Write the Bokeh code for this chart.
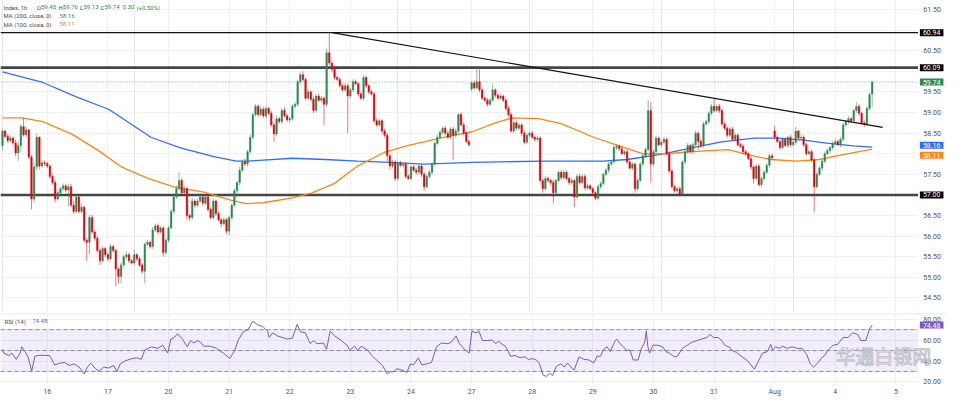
from bokeh.plotting import figure
from bokeh.models import (Range1d, FixedTicker, Span, Label, BoxAnnotation, Grid,
                          ColumnDataSource)
from bokeh.core.properties import value
from bokeh.layouts import column
from bokeh.embed import file_html
from bokeh.resources import INLINE

FONT = "Roboto"

# ---------------- data (hourly closes per trading day) ----------------
d15 = [58.55, 58.42, 58.32, 58.38, 58.26, 58.02, 58.20, 58.66, 58.46, 58.58, 57.92, 56.90, 57.68, 58.40, 57.70, 57.78, 57.76]
d16 = [57.70, 57.45, 57.30, 56.90, 57.05, 57.15, 57.22, 57.12, 57.20, 56.75, 56.60, 56.95, 56.60, 56.70, 55.90, 55.85, 56.45, 56.10, 55.95, 55.65, 55.40, 55.70, 55.55]
d17 = [55.45, 55.75, 55.65, 55.20, 55.02, 55.30, 55.50, 55.55, 55.40, 55.35, 55.55, 55.45, 55.30, 55.15, 55.80, 55.85, 55.75, 56.15, 56.25, 56.10, 56.20, 55.60, 55.90]
d20 = [56.20, 56.60, 56.95, 57.15, 57.35, 57.05, 57.15, 56.50, 56.45, 56.85, 56.75, 56.85, 56.95, 56.80, 56.95, 56.65, 56.45, 56.85, 56.55, 56.40, 56.30, 56.40, 56.12]
d21 = [56.45, 56.75, 57.10, 57.30, 57.60, 57.80, 57.75, 58.05, 58.40, 58.95, 59.15, 58.95, 59.08, 58.92, 59.10, 58.98, 58.70, 58.48, 58.85, 58.78, 59.05, 58.92, 58.82]
d22 = [58.85, 59.15, 59.20, 59.75, 59.92, 59.80, 59.35, 59.50, 59.32, 59.05, 59.40, 59.30, 59.35, 59.20, 60.45, 60.20, 60.05, 59.85, 59.80, 59.65, 59.55, 59.65, 59.40]
d23 = [59.55, 59.75, 59.70, 59.45, 59.35, 59.85, 59.65, 59.50, 59.45, 58.80, 58.70, 58.80, 58.55, 58.45, 57.95, 57.70, 57.80, 57.40, 57.78, 57.72, 57.75, 57.45, 57.40]
d24 = [57.68, 57.60, 57.55, 57.70, 57.50, 57.20, 57.45, 57.55, 57.75, 58.25, 58.40, 58.52, 58.62, 58.50, 58.40, 58.60, 58.45, 58.55, 58.95, 58.70, 58.50, 58.30, 58.22]
d27 = [59.72, 59.60, 59.75, 59.55, 59.35, 59.30, 59.20, 59.30, 59.55, 59.42, 59.35, 59.40, 59.30, 59.10, 58.95, 58.55, 58.75, 58.62, 58.70, 58.50, 58.28, 58.45, 58.50]
d28 = [58.40, 58.35, 58.38, 57.35, 57.15, 57.40, 57.35, 57.30, 57.05, 57.35, 57.55, 57.42, 57.55, 57.40, 57.30, 57.35, 56.95, 57.45, 57.30, 57.45, 57.17, 57.22, 57.15]
d29 = [57.05, 56.92, 57.20, 57.28, 57.50, 57.60, 57.75, 57.80, 58.15, 58.18, 58.12, 58.00, 58.05, 57.80, 57.65, 57.75, 57.15, 57.35, 57.75, 57.95, 58.10, 59.05, 57.75]
d30 = [58.05, 58.38, 58.22, 58.28, 58.35, 58.00, 57.58, 57.20, 57.10, 57.15, 57.02, 57.80, 58.05, 58.20, 58.05, 58.22, 58.50, 58.30, 58.20, 58.72, 58.78, 58.98, 59.15]
d31 = [59.05, 59.15, 59.05, 58.72, 58.62, 58.45, 58.60, 58.35, 58.45, 58.22, 58.18, 58.05, 58.00, 57.88, 57.68, 57.40, 57.70, 57.25, 57.40, 57.55, 57.72, 57.95, 57.90]
d01 = [58.40, 58.30, 58.15, 58.35, 58.20, 58.40, 58.22, 58.28, 58.55, 58.38, 58.40, 58.22, 58.00, 58.05, 57.85, 57.20, 57.50, 57.65, 57.82, 58.00, 58.08, 58.15, 58.25]
d04 = [58.30, 58.22, 58.35, 58.70, 58.78, 58.85, 58.80, 59.05, 59.15, 58.98, 58.75, 58.72, 59.10, 59.44, 59.74]

# upper / lower wick beyond the body, in cents
up15 = [5, 3, 6, 7, 4, 8, 10, 6, 21, 8, 2, 5, 7, 10, 2, 7, 6]
dn15 = [10, 5, 6, 4, 5, 8, 20, 15, 4, 6, 5, 25, 8, 8, 8, 5, 6]
up16 = [4, 3, 5, 6, 4, 5, 6, 4, 8, 7, 10, 6, 5, 8, 5, 5, 6, 7, 5, 4, 5, 6, 4]
dn16 = [5, 6, 5, 8, 4, 5, 4, 6, 40, 5, 6, 5, 5, 4, 6, 45, 30, 5, 6, 5, 10, 5, 6]
up17 = [5, 6, 4, 4, 5, 6, 5, 8, 4, 5, 12, 4, 5, 4, 5, 6, 4, 7, 5, 6, 5, 4, 6]
dn17 = [6, 5, 5, 42, 18, 17, 5, 6, 5, 4, 5, 6, 5, 7, 30, 4, 5, 6, 5, 6, 5, 10, 5]
up20 = [5, 6, 5, 8, 20, 6, 8, 5, 4, 8, 5, 6, 10, 5, 6, 4, 5, 6, 4, 5, 4, 6, 5]
dn20 = [5, 4, 6, 5, 4, 6, 5, 10, 8, 5, 6, 5, 4, 6, 5, 6, 5, 4, 6, 5, 8, 4, 7]
up21 = [5, 4, 6, 5, 8, 6, 8, 5, 6, 4, 6, 5, 8, 6, 5, 4, 6, 5, 8, 5, 6, 8, 5]
dn21 = [10, 6, 5, 8, 6, 5, 4, 6, 5, 6, 5, 6, 4, 5, 6, 4, 5, 20, 6, 5, 6, 4, 5]
up22 = [5, 6, 5, 5, 6, 8, 5, 8, 4, 6, 5, 6, 5, 4, 10, 49, 6, 5, 4, 6, 5, 6, 5]
dn22 = [6, 5, 6, 5, 6, 5, 6, 5, 5, 6, 5, 4, 6, 50, 6, 5, 6, 5, 4, 6, 5, 4, 90]
up23 = [5, 6, 5, 4, 5, 6, 5, 4, 6, 5, 6, 5, 4, 6, 5, 4, 6, 5, 4, 5, 4, 5, 6]
dn23 = [6, 5, 4, 6, 5, 5, 6, 5, 4, 6, 5, 4, 6, 5, 13, 8, 5, 6, 5, 4, 6, 5, 4]
up24 = [4, 5, 6, 4, 5, 6, 4, 5, 4, 5, 6, 5, 4, 6, 5, 4, 5, 6, 4, 5, 6, 4, 5]
dn24 = [5, 4, 6, 5, 6, 10, 5, 4, 6, 5, 4, 5, 6, 5, 4, 5, 59, 6, 5, 4, 6, 5, 4]
up27 = [5, 6, 35, 29, 5, 4, 6, 5, 15, 4, 5, 6, 4, 5, 6, 5, 4, 6, 5, 4, 6, 5, 4]
dn27 = [6, 5, 4, 6, 5, 4, 6, 5, 4, 6, 5, 4, 5, 6, 5, 4, 6, 5, 4, 6, 5, 4, 6]
up28 = [5, 4, 6, 5, 4, 6, 5, 4, 6, 5, 4, 6, 5, 4, 5, 6, 4, 5, 6, 4, 5, 6, 4]
dn28 = [4, 6, 5, 5, 10, 5, 6, 5, 25, 5, 4, 6, 5, 4, 6, 5, 25, 6, 5, 4, 6, 5, 4]
up29 = [5, 4, 6, 5, 4, 6, 5, 4, 6, 5, 4, 6, 5, 4, 6, 5, 4, 6, 5, 4, 6, 25, 20]
dn29 = [6, 5, 4, 6, 5, 4, 6, 5, 4, 6, 5, 4, 6, 5, 4, 6, 10, 5, 4, 6, 5, 4, 45]
up30 = [5, 6, 4, 5, 6, 4, 5, 6, 4, 5, 6, 4, 5, 6, 4, 5, 6, 4, 5, 6, 4, 5, 6]
dn30 = [6, 5, 4, 6, 5, 4, 6, 5, 4, 6, 5, 4, 6, 5, 4, 6, 5, 20, 6, 5, 4, 6, 5]
up31 = [18, 5, 6, 4, 5, 6, 4, 5, 6, 4, 5, 6, 4, 5, 6, 4, 5, 6, 4, 5, 6, 4, 5]
dn31 = [5, 4, 6, 5, 4, 6, 5, 4, 6, 5, 4, 6, 5, 4, 6, 12, 5, 4, 6, 5, 4, 6, 5]
up01 = [13, 5, 4, 6, 5, 4, 6, 5, 10, 4, 6, 5, 4, 6, 5, 4, 6, 5, 4, 6, 5, 4, 6]
dn01 = [5, 4, 6, 5, 4, 6, 5, 4, 6, 5, 4, 6, 5, 4, 6, 62, 5, 4, 6, 5, 4, 6, 5]
up04 = [5, 4, 6, 5, 4, 6, 5, 4, 10, 5, 4, 6, 5, 4, 2]
dn04 = [5, 4, 6, 5, 4, 6, 5, 4, 6, 5, 4, 7, 5, 4, 32]

# bars whose open is not the previous close
gap_bar = [0, 178, 293, 330]
gap_open = [58.20, 59.57, 58.55, 59.45]

# moving averages (bar index, value)
ma200_bar = [0, 15.3, 28, 40.3, 56.3, 67.5, 80.2, 88.8, 92.5, 97.4,
             110, 122.4, 134.7, 147.4, 159.7, 178.4, 204.5, 228, 237, 249.3,
             261.6, 272.8, 285.4, 294, 304, 312.7, 322.8, 330]
ma200_val = [59.99, 59.73, 59.38, 59.08, 58.40, 58.14, 57.93, 57.82, 57.82, 57.84,
             57.89, 57.86, 57.82, 57.79, 57.75, 57.79, 57.82, 57.82, 57.86, 57.98,
             58.14, 58.29, 58.38, 58.38, 58.33, 58.26, 58.19, 58.16]
ma100_bar = [0, 7.5, 15.3, 26.5, 36.6, 45.1, 55.2, 65.3, 76.5, 86.2,
             92.5, 98.9, 110, 117.5, 126, 134.7, 144.8, 153.4, 166, 178.4,
             187, 193.3, 203.4, 212, 224.3, 233.2, 242.9, 251.9, 261.6, 275.4,
             282.8, 291.4, 301.5, 310, 319, 330]
ma100_val = [58.87, 58.87, 58.78, 58.47, 58.07, 57.68, 57.40, 57.19, 57.07, 56.88,
             56.79, 56.81, 56.93, 57.05, 57.28, 57.70, 58.03, 58.19, 58.38, 58.54,
             58.75, 58.87, 58.85, 58.73, 58.40, 58.21, 58.00, 58.00, 58.05, 58.10,
             57.98, 57.86, 57.82, 57.86, 57.98, 58.11]

# RSI(14)
rsi_bar = [0, 0.5, 2.4, 3.6, 5.2, 6.7, 7.3, 8.6, 9.8, 11.1,
           12.3, 14.2, 17.9, 19.8, 21.6, 23.5, 25.4, 27.2, 29.1, 31.0,
           32.2, 33.5, 35.3, 36.6, 38.4, 40.3, 42.2, 43.4, 44.7, 46.5,
           49.0, 50.9, 52.7, 54.0, 56.5, 59.0, 60.8, 62.7, 63.9, 65.2,
           66.4, 68.3, 70.1, 71.4, 72.6, 73.9, 75.1, 76.4, 78.8, 81.3,
           83.8, 86.3, 88.2, 89.4, 91.3, 93.2, 95.0, 96.9, 98.8, 100.6,
           101.2, 102.5, 104.4, 106.2, 108.1, 110.0, 111.8, 113.1, 114.9, 116.8,
           118.0, 119.3, 121.8, 123.0, 124.3, 126.1, 128.6, 131.1, 131.7, 133.6,
           134.8, 136.1, 138.5, 140.4, 142.3, 144.2, 146.0, 147.3, 148.5, 149.7,
           151.6, 153.5, 154.7, 156.0, 157.8, 159.1, 160.9, 162.8, 164.7, 166.5,
           169.0, 170.3, 172.1, 173.4, 175.3, 177.1, 178.1, 179.6, 180.8, 182.1,
           184.0, 185.8, 187.1, 188.3, 189.6, 190.8, 192.0, 192.7, 194.5, 196.4,
           198.2, 199.5, 201.4, 202.6, 203.8, 205.1, 206.3, 207.6, 208.8, 210.1,
           211.9, 213.2, 214.4, 215.7, 216.9, 218.8, 220.6, 222.5, 224.4, 225.6,
           226.9, 228.1, 229.4, 230.6, 232.5, 233.1, 234.3, 235.6, 236.8, 238.1,
           239.3, 241.2, 242.4, 243.7, 244.3, 244.9, 245.5, 246.8, 248.6, 250.5,
           251.7, 253.0, 254.9, 256.1, 258.0, 259.8, 261.7, 263.5, 265.4, 267.3,
           268.5, 269.8, 271.6, 272.9, 274.1, 276.0, 276.6, 278.5, 280.3, 282.8,
           285.3, 286.6, 288.4, 290.3, 291.5, 292.2, 293.4, 294.7, 296.0, 297.8,
           299.6, 301.5, 303.4, 305.2, 306.5, 307.7, 309.6, 310.8, 312.0, 313.3,
           315.2, 317.0, 318.9, 320.8, 322.6, 324.5, 325.7, 327.6, 328.9, 330.0]
rsi_val = [51.2, 47.6, 45.2, 47.6, 41.6, 47.6, 53.6, 49.1, 43.1, 30.3,
           44.6, 45.5, 45.2, 36.3, 37.8, 38.7, 35.7, 37.2, 34.2, 27.6,
           34.2, 37.8, 32.7, 30.3, 34.2, 33.3, 35.7, 29.7, 37.2, 40.1,
           42.2, 43.1, 41.6, 50.6, 53.6, 52.1, 55.1, 47.6, 61.0, 62.5,
           66.1, 61.0, 53.6, 59.6, 57.2, 59.6, 58.1, 54.2, 54.2, 52.1,
           47.6, 42.5, 50.6, 59.6, 67.9, 70.0, 78.1, 74.5, 73.0, 68.5,
           62.5, 67.0, 64.0, 62.5, 61.0, 61.9, 75.1, 67.9, 67.0, 56.6,
           59.6, 56.6, 57.2, 51.2, 68.5, 64.0, 59.6, 54.2, 50.0, 54.2,
           50.0, 54.2, 50.6, 44.6, 40.1, 35.7, 27.6, 29.7, 29.7, 32.7,
           31.2, 29.1, 37.2, 36.3, 43.1, 36.3, 37.2, 38.7, 53.6, 57.2,
           56.6, 58.1, 64.0, 56.6, 51.2, 47.6, 68.5, 67.0, 68.5, 59.6,
           59.6, 60.1, 56.6, 59.0, 56.0, 54.2, 49.1, 44.6, 45.2, 43.1,
           44.0, 41.6, 42.2, 41.0, 37.2, 26.7, 25.2, 28.2, 26.1, 34.8,
           37.2, 34.2, 38.1, 34.2, 31.2, 44.0, 41.6, 41.0, 38.1, 44.6,
           44.6, 51.2, 53.6, 49.1, 59.6, 61.0, 56.6, 53.6, 50.0, 50.6,
           41.0, 41.0, 52.1, 58.1, 68.5, 53.6, 47.6, 55.1, 55.1, 53.6,
           49.1, 47.6, 44.0, 44.6, 52.1, 55.1, 58.1, 59.6, 61.0, 62.5,
           65.5, 62.5, 62.5, 59.6, 55.1, 53.0, 50.6, 48.2, 44.6, 40.1,
           32.1, 38.7, 47.6, 49.1, 56.0, 50.6, 53.6, 52.1, 54.2, 52.1,
           53.6, 52.1, 52.1, 46.1, 37.2, 34.2, 38.7, 43.1, 45.2, 50.6,
           55.1, 56.0, 62.5, 62.5, 67.0, 65.5, 59.6, 59.6, 70.0, 74.48]

trend_bar = [125, 334]
trend_val = [60.94, 58.64]
levels_thin = [60.94]
levels_thick = [60.09, 57.00]
last_close = 59.74
ma200_last = 58.16
ma100_last = 58.11
rsi_last = 74.48
rsi_levels = [70, 50, 30]

day_bars = [17, 40, 63, 86, 109, 132, 155, 178, 201, 224, 247, 270, 293, 316, 339]
day_labels = ["16", "17", "20", "21", "22", "23", "24", "27", "28", "29", "30", "31", "Aug", "4", "5"]
price_ticks = [54.5, 55.0, 55.5, 56.0, 56.5, 57.0, 57.5, 58.0, 58.5, 59.0, 59.5, 60.0, 60.5, 61.0, 61.5]
rsi_ticks = [20, 40, 60, 80]

# ---------------- build candles ----------------
days = [d15, d16, d17, d20, d21, d22, d23, d24, d27, d28, d29, d30, d31, d01, d04]
ups = [up15, up16, up17, up20, up21, up22, up23, up24, up27, up28, up29, up30, up31, up01, up04]
dns = [dn15, dn16, dn17, dn20, dn21, dn22, dn23, dn24, dn27, dn28, dn29, dn30, dn31, dn01, dn04]
closes = [c for d in days for c in d]
up_all = [u for d in ups for u in d]
dn_all = [w for d in dns for w in d]
n = len(closes)
xs = list(range(n))
gaps = dict(zip(gap_bar, gap_open))
opens = [gaps.get(i, closes[i - 1] if i > 0 else closes[0]) for i in xs]
tops = [max(o, c) for o, c in zip(opens, closes)]
bots = [min(o, c) for o, c in zip(opens, closes)]
highs = [t + u / 100 for t, u in zip(tops, up_all)]
lows = [b - w / 100 for b, w in zip(bots, dn_all)]
UP, DN = "#2b8a52", "#e5000e"
cols = [UP if c >= o else DN for o, c in zip(opens, closes)]
src = ColumnDataSource(dict(x=xs, top=tops, bot=bots, hi=highs, lo=lows, col=cols))

# horizontal layout (in bar units): plot area, then a price-scale strip on the right
XR0, XR1 = -0.75, 358.96
X_EDGE = 347.4      # end of the plotting area
TAG_X = 348.1       # left edge of the value tags
LBL_X = 349.4       # left edge of the scale labels
xr = Range1d(XR0, XR1)
W = 948
GRID = "#eef0f4"
SCALE_TXT = "#50535e"
PAD = dict(left=3, right=3, top=1, bottom=1)


def tag(fig, y, s, bg, yoff=0):
    fig.add_layout(Label(x=TAG_X, y=y, x_units="data", y_units="data",
                         y_offset=yoff, text=s, text_color="white", text_font=FONT,
                         text_font_size="7px", text_baseline="middle", text_align="left",
                         background_fill_color=bg, padding=PAD))


def txt(fig, x, y, s, color, size="6px"):
    fig.add_layout(Label(x=x, y=y, x_units="screen", y_units="data", text=s,
                         text_color=color, text_font=FONT, text_font_size=size,
                         text_baseline="middle", text_align="left"))


def scale_labels(fig, ticks, hidden_near, tol):
    shown = [t for t in ticks if all(abs(t - h) > tol for h in hidden_near)]
    fig.text(x=[LBL_X] * len(shown), y=shown, text=[f"{t:.2f}" for t in shown],
             text_font=value(FONT), text_font_size=value("7px"), text_color=SCALE_TXT,
             text_baseline="middle", text_align="left")


# ---------------- main price panel ----------------
p = figure(width=W, height=312, x_range=xr, y_range=Range1d(54.17, 61.72),
           output_backend="svg", toolbar_location=None, y_axis_location=None,
           x_axis_location=None, min_border_left=0, min_border_top=0,
           min_border_bottom=1, min_border_right=0)
p.outline_line_color = None
p.background_fill_color = "white"
p.border_fill_color = "white"
p.add_layout(Grid(dimension=1, ticker=FixedTicker(ticks=price_ticks), grid_line_color=GRID))
p.add_layout(Grid(dimension=0, ticker=FixedTicker(ticks=day_bars), grid_line_color=GRID))
p.add_layout(BoxAnnotation(left=X_EDGE, fill_color="white", fill_alpha=1,
                           line_color=None, level="underlay"))

p.segment(x0=[XR0] * len(levels_thin), y0=levels_thin, x1=[X_EDGE] * len(levels_thin),
          y1=levels_thin, line_color="#111111", line_width=1.4)
p.segment(x0=[XR0] * len(levels_thick), y0=levels_thick, x1=[X_EDGE] * len(levels_thick),
          y1=levels_thick, line_color="#454545", line_width=2.6)
p.segment(x0=[XR0], y0=[last_close], x1=[X_EDGE], y1=[last_close], line_color=UP,
          line_alpha=0.7, line_dash="1 2", line_width=1)

p.line(ma200_bar, ma200_val, line_color="#2f6ff5", line_width=1.3)
p.line(ma100_bar, ma100_val, line_color="#f7861c", line_width=1.3)

p.segment(x0="x", y0="lo", x1="x", y1="hi", line_color="col", line_alpha=0.55,
          line_width=1, source=src)
p.vbar(x="x", width=0.62, top="top", bottom="bot", fill_color="col",
       line_color="col", line_width=0.4, source=src)

p.line(trend_bar, trend_val, line_color="#111111", line_width=1.2)

tag_vals = levels_thin + levels_thick + [last_close, ma200_last, ma100_last]
scale_labels(p, price_ticks, [60.94, 60.09, 57.00, 57.97], 0.1)
for v in levels_thin + levels_thick:
    tag(p, v, f"{v:.2f}", "#000000")
tag(p, last_close, f"{last_close:.2f}", UP)
tag(p, ma200_last, f"{ma200_last:.2f}", "#2f6ff5", 2)
tag(p, ma100_last, f"{ma100_last:.2f}", "#f7861c", -6)

GRAY = "#4a4a4a"
GREEN = "#2b8a52"
row1, row2, row3 = 61.556, 61.346, 61.147
txt(p, 3, row1, "Index, 1h", GRAY)
txt(p, 36.5, row1, "O", GRAY)
txt(p, 40.5, row1, "59.45", GREEN)
txt(p, 58, row1, "H", GRAY)
txt(p, 62.3, row1, "59.76", GREEN)
txt(p, 79.5, row1, "L", GRAY)
txt(p, 83, row1, "59.13", GREEN)
txt(p, 100, row1, "C", GRAY)
txt(p, 104, row1, "59.74", GREEN)
txt(p, 122, row1, "0.30", GREEN)
txt(p, 136, row1, "(+0.50%)", GREEN)
txt(p, 3, row2, "MA (200, close, 0)", GRAY)
txt(p, 59, row2, f"{ma200_last:.2f}", "#2f6ff5")
txt(p, 3, row3, "MA (100, close, 0)", GRAY)
txt(p, 59, row3, f"{ma100_last:.2f}", "#f7861c")

# ---------------- RSI panel ----------------
r = figure(width=W, height=86, x_range=xr, y_range=Range1d(17.5, 85.5),
           output_backend="svg", toolbar_location=None, y_axis_location=None,
           min_border_left=0, min_border_top=1, min_border_bottom=0, min_border_right=0)
r.outline_line_color = None
r.background_fill_color = "white"
r.border_fill_color = "white"
r.add_layout(Grid(dimension=1, ticker=FixedTicker(ticks=rsi_ticks), grid_line_color=GRID))
r.xgrid.grid_line_color = GRID
r.xgrid.ticker = FixedTicker(ticks=day_bars)
r.xaxis.ticker = FixedTicker(ticks=day_bars)
r.xaxis.major_label_overrides = {b: s for b, s in zip(day_bars, day_labels)}
xa = r.xaxis[0]
xa.axis_line_color = None
xa.major_tick_line_color = None
xa.minor_tick_line_color = None
xa.major_label_text_font = FONT
xa.major_label_text_font_size = "7px"
xa.major_label_text_color = SCALE_TXT
xa.major_label_standoff = 3
xa.major_tick_out = 0
r.add_layout(BoxAnnotation(left=X_EDGE, fill_color="white", fill_alpha=1,
                           line_color=None, level="underlay"))

r.add_layout(Span(location=85.3, dimension="width", line_color="#d6d9e0", line_width=1))
r.add_layout(BoxAnnotation(left=XR0, right=X_EDGE, bottom=min(rsi_levels), top=max(rsi_levels),
                           fill_color="#7e57c2", fill_alpha=0.1, line_color=None))
r.segment(x0=[XR0] * len(rsi_levels), y0=rsi_levels, x1=[X_EDGE] * len(rsi_levels),
          y1=rsi_levels, line_color="#8a8d98", line_dash="4 3", line_width=1)
r.line(rsi_bar, rsi_val, line_color="#7e57c2", line_width=1)
scale_labels(r, rsi_ticks, [], 0)
tag(r, rsi_last, f"{rsi_last:.2f}", "#7e57c2")
txt(r, 4, 78.2, "RSI (14)", GRAY)
txt(r, 32, 78.2, f"{rsi_last:.2f}", "#7e57c2")
r.add_layout(Label(x=316.4, y=45, x_units="data", y_units="data", text="华通白银网",
                   text_color="white", text_alpha=0.9, text_font="Noto Sans CJK SC",
                   text_font_size="19px", text_baseline="middle",
                   text_outline_color="#b8b8c4"))

layout = column(p, r)
open("out.html", "w").write(file_html(layout, INLINE))
